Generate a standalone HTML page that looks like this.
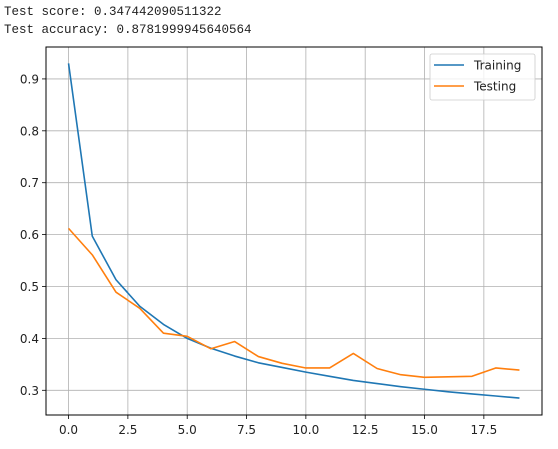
<!DOCTYPE html>
<html><head><meta charset="utf-8"><style>
body{margin:0;background:#fff;width:558px;height:449px;overflow:hidden}
pre{margin:0;position:absolute;left:4px;top:3px;font:12.5px/18px "Liberation Mono",monospace;color:#222}
svg{position:absolute;left:0;top:0}
text{font-family:"DejaVu Sans","Liberation Sans",sans-serif;font-size:12px;fill:#222}
</style></head><body>
<pre>Test score: 0.347442090511322
Test accuracy: 0.8781999945640564</pre>
<svg id="c" width="558" height="449"></svg>
<script>
const epochs=[0,1,2,3,4,5,6,7,8,9,10,11,12,13,14,15,16,17,18,19];
const training=[0.93,0.597,0.513,0.462,0.427,0.400,0.381,0.366,0.353,0.344,0.335,0.327,0.319,0.313,0.307,0.302,0.297,0.293,0.289,0.285];
const testing=[0.612,0.561,0.489,0.458,0.410,0.404,0.380,0.394,0.365,0.352,0.343,0.343,0.371,0.342,0.330,0.325,0.326,0.327,0.343,0.339];
const xTicks=[0,2.5,5,7.5,10,12.5,15,17.5];
const xTickLabels=["0.0","2.5","5.0","7.5","10.0","12.5","15.0","17.5"];
const yTicks=[0.3,0.4,0.5,0.6,0.7,0.8,0.9];
const yTickLabels=["0.3","0.4","0.5","0.6","0.7","0.8","0.9"];
const L=46,R=542,T=47,B=415;
const x0=-0.95,x1=19.95,y0=0.2524,y1=0.9615;
const sx=v=>L+(v-x0)/(x1-x0)*(R-L);
const sy=v=>B-(v-y0)/(y1-y0)*(B-T);
const svg=document.getElementById('c');const NS='http://www.w3.org/2000/svg';
function mk(t,a,p){const e=document.createElementNS(NS,t);for(const k in a)e.setAttribute(k,a[k]);(p||svg).appendChild(e);return e;}
xTicks.forEach((v,i)=>{
const g=mk('line',{x1:sx(v),x2:sx(v),y1:T,y2:B,stroke:'#b0b0b0','stroke-width':0.8});


const tk=mk('line',{x1:sx(v),x2:sx(v),y1:B,y2:B+4,stroke:'#000','stroke-width':0.8});


const t=mk('text',{x:sx(v),y:B+19,'text-anchor':'middle'});t.textContent=xTickLabels[i];


});
yTicks.forEach((v,i)=>{
const g=mk('line',{x1:L,x2:R,y1:sy(v),y2:sy(v),stroke:'#b0b0b0','stroke-width':0.8});


const tk=mk('line',{x1:L-4,x2:L,y1:sy(v),y2:sy(v),stroke:'#000','stroke-width':0.8});


const t=mk('text',{x:L-7,y:sy(v)+4.5,'text-anchor':'end'});t.textContent=yTickLabels[i];


});
function line(d,c,n){const p=mk('polyline',{points:d.map((v,i)=>sx(epochs[i])+','+sy(v)).join(' '),fill:'none',stroke:c,'stroke-width':1.6,'stroke-linejoin':'round'});

}
line(training,'#1f77b4','training-line');
line(testing,'#ff7f0e','testing-line');
const fr=mk('rect',{x:L,y:T,width:R-L,height:B-T,fill:'none',stroke:'#000','stroke-width':1});


const lg=mk('g',{});


mk('rect',{x:430,y:54,width:105,height:46,rx:2,fill:'rgba(255,255,255,0.8)',stroke:'#ccc','stroke-width':0.8},lg);
[['Training','#1f77b4',65],['Testing','#ff7f0e',86]].forEach(([n,c,y])=>{
const ln=mk('line',{x1:434,x2:464,y1:y,y2:y,stroke:c,'stroke-width':1.6},lg);


const t=mk('text',{x:474,y:y+4.5},lg);t.textContent=n;


});
</script>
</body></html>
